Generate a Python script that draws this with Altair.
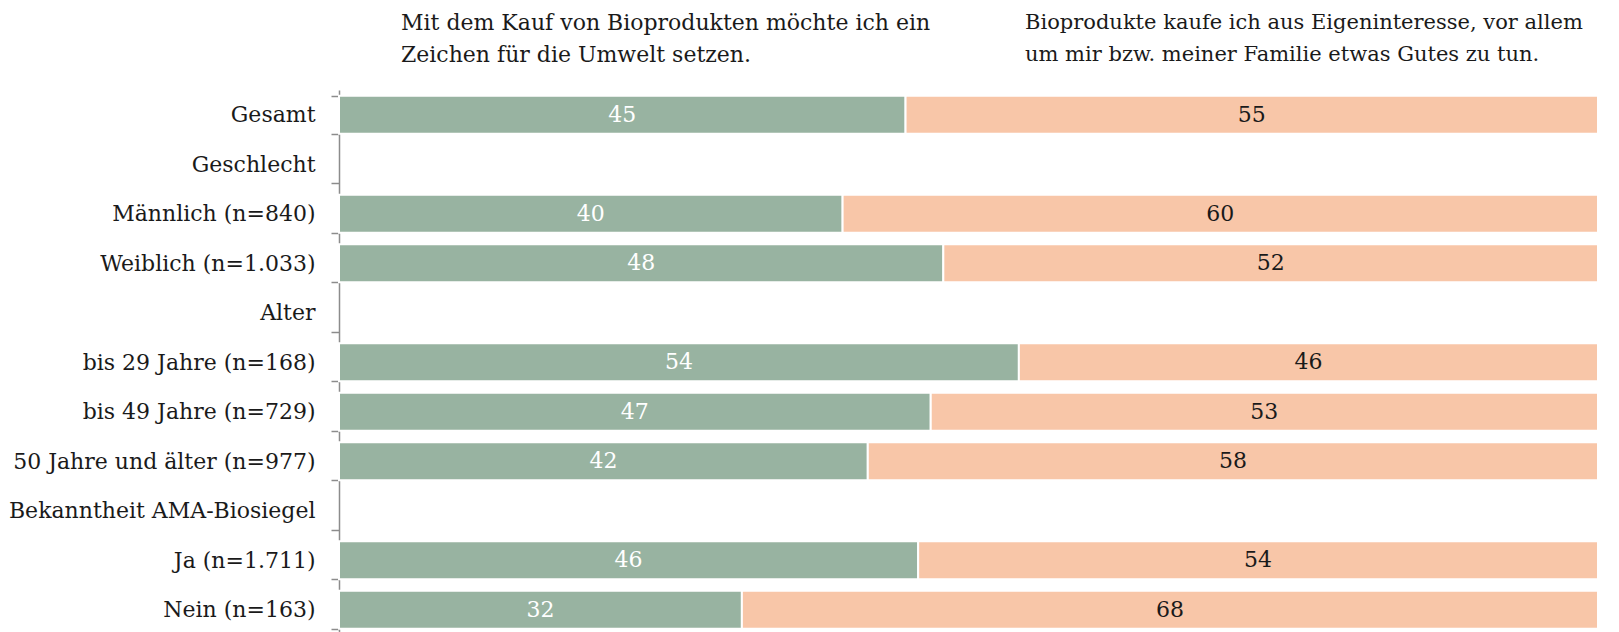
import altair as alt
import pandas as pd

categories = [
    "Gesamt", "Geschlecht", "Männlich (n=840)", "Weiblich (n=1.033)", "Alter",
    "bis 29 Jahre (n=168)", "bis 49 Jahre (n=729)", "50 Jahre und älter (n=977)",
    "Bekanntheit AMA-Biosiegel", "Ja (n=1.711)", "Nein (n=163)",
]
umwelt = [45, None, 40, 48, None, 54, 47, 42, None, 46, 32]
eigen = [55, None, 60, 52, None, 46, 53, 58, None, 54, 68]
series_keys = ["Umwelt", "Eigeninteresse"]
series_colors = ["#98b3a1", "#f8c6a8"]
text_colors = ["#ffffff", "#1a1a1a"]
header_left = ["Mit dem Kauf von Bioprodukten möchte ich ein", "Zeichen für die Umwelt setzen."]
header_right = ["Bioprodukte kaufe ich aus Eigeninteresse, vor allem", "um mir bzw. meiner Familie etwas Gutes zu tun."]

rows = []
for cat, a, b in zip(categories, umwelt, eigen):
    if a is not None:
        rows.append({"cat": cat, "series": series_keys[0], "ord": 0, "value": a})
        rows.append({"cat": cat, "series": series_keys[1], "ord": 1, "value": b})
df = pd.DataFrame(rows)

FONT = "DejaVu Serif"
FS = 22

base = alt.Chart(df).transform_stack(
    stack="value", groupby=["cat"], as_=["x0", "x1"], sort=[alt.SortField("ord")]
).transform_calculate(mid="(datum.x0 + datum.x1) / 2")

y_enc = alt.Y(
    "cat:N", sort=categories, scale=alt.Scale(domain=categories, paddingInner=0.23, paddingOuter=0.115),
    title=None,
    axis=alt.Axis(
        labelFont=FONT, labelFontSize=FS, labelColor="#1a1a1a", labelPadding=16,
        tickSize=8, tickColor="#8c8c8c", domainColor="#8c8c8c", tickWidth=1.5, domainWidth=1.5,
        tickBand="extent", labelLimit=400,
    ),
)
x_scale = alt.Scale(domain=[0, 100], nice=False)

bars = base.mark_bar(stroke="white", strokeWidth=2).encode(
    x=alt.X("x0:Q", scale=x_scale, axis=None),
    x2="x1:Q",
    y=y_enc,
    color=alt.Color("series:N", scale=alt.Scale(domain=series_keys, range=series_colors), legend=None),
)

labels = base.mark_text(font=FONT, fontSize=FS, baseline="middle", align="center").encode(
    x=alt.X("mid:Q", scale=x_scale, axis=None),
    y=alt.Y("cat:N", sort=categories),
    text=alt.Text("value:Q"),
    color=alt.Color("series:N", scale=alt.Scale(domain=series_keys, range=text_colors), legend=None),
)

hdr_l = alt.Chart(pd.DataFrame({"t": [0]})).mark_text(
    font=FONT, fontSize=FS, align="left", baseline="middle", lineHeight=32, color="#1a1a1a",
    text=header_left,
).encode(x=alt.value(62), y=alt.value(-67))

hdr_r = alt.Chart(pd.DataFrame({"t": [0]})).mark_text(
    font=FONT, fontSize=21, align="left", baseline="middle", lineHeight=32, color="#1a1a1a",
    text=header_right,
).encode(x=alt.value(686), y=alt.value(-67))

chart = alt.layer(bars, labels, hdr_l, hdr_r).resolve_scale(color="independent").properties(
    width=1259, height=544.5,
    autosize=alt.AutoSizeParams(type="none"),
    padding={"left": 331, "top": 82, "right": 12, "bottom": 0},
).configure_view(stroke=None)

chart.save("out.html", embed_options={"renderer": "svg", "actions": False})
